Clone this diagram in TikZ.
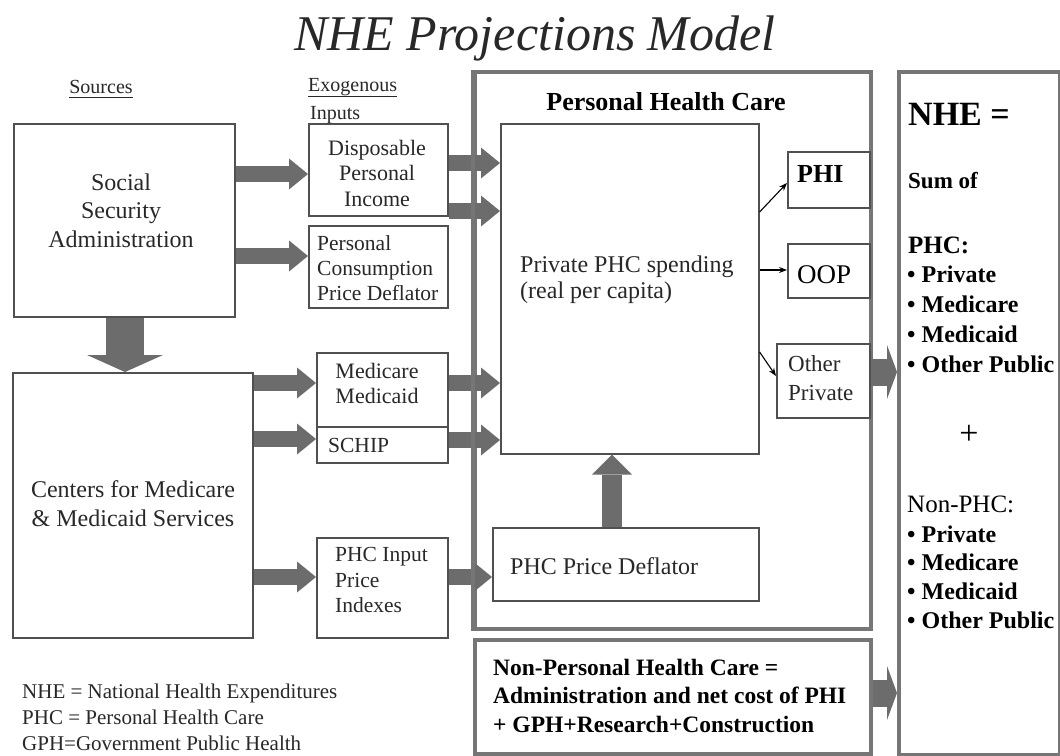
\documentclass[tikz,border=0pt]{standalone}
\usepackage{fontspec}
\setmainfont{Liberation Serif}
\usetikzlibrary{arrows.meta}
\definecolor{arrgray}{RGB}{108,108,108}
\definecolor{bordgray}{RGB}{80,80,80}
\definecolor{outgray}{RGB}{118,118,118}
\definecolor{txtgray}{RGB}{40,40,40}
\newcommand\myfs[2]{\fontsize{#1}{#2}\selectfont}
\begin{document}
\begin{tikzpicture}[x=1pt,y=-1pt,
 box/.style={draw=bordgray,line width=1.6pt,inner sep=0pt,anchor=north west},
 outbox/.style={draw=outgray,line width=4pt,inner sep=0pt,anchor=north west},
 lbl/.style={inner sep=0pt,text=txtgray},
 blbl/.style={inner sep=0pt,text=black},
 uline/.style={draw=txtgray,line width=1pt},
 fatarrow/.style={draw=arrgray,line width=16pt,-{Triangle[length=19pt,width=31pt,line width=0pt]}},
 bigarrow/.style={draw=arrgray,line width=38pt,-{Triangle[length=17pt,width=76pt,line width=0pt]}},
 uparrow/.style={draw=arrgray,line width=20pt,-{Triangle[length=20pt,width=40pt,line width=0pt]}},
 widearrow/.style={draw=arrgray,line width=27pt,-{Triangle[length=10pt,width=54pt,line width=0pt]}},
 thinarrow/.style={draw=black,line width=1.1pt,-{Stealth[length=8pt,width=6pt]}}]
\fill[white] (0,0) rectangle (1060,755);
\useasboundingbox (0,0) rectangle (1060,755);
% outer boxes
\node[outbox,minimum width=396pt,minimum height=557pt] (phc) at (473,70) {};
\node[outbox,minimum width=396pt,minimum height=114pt] (nphc) at (473,638) {};
\node[outbox,minimum width=161pt,minimum height=683pt] (nhe) at (897,70) {};
% boxes
\node[box,minimum width=221pt,minimum height=193pt] (ssa) at (13,123) {};
\node[box,minimum width=240pt,minimum height=265pt] (cms) at (12,372) {};
\node[box,minimum width=139pt,minimum height=92pt] (dpi) at (308,123) {};
\node[box,minimum width=139pt,minimum height=82pt] (pcpd) at (308,225) {};
\node[box,minimum width=131pt,minimum height=74pt] (med) at (316,352) {};
\node[box,minimum width=131pt,minimum height=36pt] (schip) at (316,426) {};
\node[box,minimum width=131pt,minimum height=100pt] (phcin) at (316,537) {};
\node[box,minimum width=258pt,minimum height=330pt] (priv) at (500,123) {};
\node[box,minimum width=266pt,minimum height=73pt] (defl) at (492,527) {};
\node[box,minimum width=82pt,minimum height=56pt] (phi) at (787,151) {};
\node[box,minimum width=82pt,minimum height=54pt] (oop) at (787,243) {};
\node[box,minimum width=93pt,minimum height=74pt] (othp) at (776,343) {};
% fat arrows
\draw[fatarrow] (ssa.east |- 0,174) -- (dpi.west |- 0,174);
\draw[fatarrow] (ssa.east |- 0,256) -- (pcpd.west |- 0,256);
\draw[fatarrow] (dpi.east |- 0,163) -- (priv.west |- 0,163);
\draw[fatarrow] (dpi.east |- 0,211) -- (priv.west |- 0,211);
\draw[bigarrow] (ssa.south -| 125,0) -- (cms.north -| 125,0);
\draw[fatarrow] (cms.east |- 0,383) -- (med.west |- 0,383);
\draw[fatarrow] (cms.east |- 0,439) -- (schip.west |- 0,439);
\draw[fatarrow] (cms.east |- 0,577) -- (phcin.west |- 0,577);
\draw[fatarrow] (med.east |- 0,383) -- (priv.west |- 0,383);
\draw[fatarrow] (schip.east |- 0,440) -- (priv.west |- 0,440);
\draw[fatarrow] (phcin.east |- 0,577) -- (defl.west |- 0,577);
\draw[uparrow] (defl.north -| 612,0) -- (priv.south -| 612,0);
\draw[widearrow] (othp.east |- 0,372) -- (nhe.west |- 0,372);
\draw[widearrow] (nphc.east |- 0,693) -- (nhe.west |- 0,693);
\draw[outgray,line width=4pt] (phc.north west) -- (phc.south west);
% thin arrows
\draw[thinarrow] (priv.east |- 0,212) -- (phi.west |- 0,183);
\draw[thinarrow] (priv.east |- 0,270) -- (oop.west |- 0,270);
\draw[thinarrow] (priv.east |- 0,352) -- (othp.west |- 0,376);
% texts
\node[lbl,font=\itshape\myfs{50}{60},anchor=base] (title) at (535,50) {NHE Projections Model};
\node[lbl,font=\myfs{20}{24},anchor=base] (src) at (101,93) {Sources};
\draw[uline] ([yshift=-4pt]src.base west) -- ([yshift=-4pt]src.base east);
\node[lbl,font=\myfs{20}{24},anchor=base west] (exo) at (308,91) {Exogenous};
\draw[uline] ([yshift=-5pt]exo.base west) -- ([yshift=-5pt]exo.base east);
\node[lbl,font=\myfs{20}{24},anchor=base west] (inp) at (310,119) {Inputs};
\node[lbl,font=\myfs{24}{28.5},align=center] (ssat) at (121,210.4) {Social\\Security\\Administration};
\node[lbl,font=\myfs{24}{29},align=center] (cmst) at (133,503.3) {Centers for Medicare\\\& Medicaid Services};
\node[lbl,font=\myfs{22}{25.5},align=center] (dpit) at (377,173) {Disposable\\Personal\\Income};
\node[lbl,font=\myfs{21.5}{25},align=left,anchor=west] (pcpdt) at (317,267.7) {Personal\\Consumption\\Price Deflator};
\node[lbl,font=\myfs{22}{25},align=center] (medt) at (377,383) {Medicare\\Medicaid};
\node[lbl,font=\myfs{21.5}{25},anchor=base west] (schipt) at (328,452) {SCHIP};
\node[lbl,font=\myfs{21.5}{25.5},align=left,anchor=west] (phcint) at (335,580.2) {PHC Input\\Price\\Indexes};
\node[blbl,font=\bfseries\myfs{26}{30},anchor=base] (phctitle) at (666,110) {Personal Health Care};
\node[lbl,font=\myfs{24}{26},align=left,anchor=west] (privt) at (520,279.5) {Private PHC spending\\(real per capita)};
\node[lbl,font=\myfs{24}{28},anchor=base west] (deflt) at (510,574) {PHC Price Deflator};
\node[blbl,font=\bfseries\myfs{26}{30},anchor=base west] (phit) at (797,182) {PHI};
\node[blbl,font=\myfs{27}{30},anchor=base west] (oopt) at (797,283) {OOP};
\node[lbl,font=\myfs{23}{29},align=left,anchor=west] (othpt) at (788,377.7) {Other\\Private};
\node[blbl,font=\bfseries\myfs{23.5}{28.5},align=left,anchor=west] (nphct) at (493,695.5) {Non-Personal Health Care =\\Administration and net cost of PHI\\+ GPH+Research+Construction};
\node[blbl,font=\bfseries\myfs{34}{40},anchor=base west] (nhet) at (908,125) {NHE =};
\node[blbl,font=\bfseries\myfs{23}{28},anchor=base west] (sumt) at (908,188) {Sum of};
\node[blbl,font=\bfseries\myfs{25}{30},anchor=base west] (phcl) at (908,253) {PHC:};
\node[blbl,font=\bfseries\myfs{24}{30},align=left,anchor=west] (phcb) at (907,318.9) {• Private\\• Medicare\\• Medicaid\\• Other Public};
\node[blbl,font=\myfs{34}{40}] (plus) at (969,435) {+};
\node[blbl,font=\myfs{25}{30},anchor=base west] (nonl) at (907,512) {Non-PHC:};
\node[blbl,font=\bfseries\myfs{24}{28.7},align=left,anchor=west] (nonb) at (907,577) {• Private\\• Medicare\\• Medicaid\\• Other Public};
\node[lbl,font=\myfs{21}{26},align=left,anchor=west] (legend) at (22,717.2) {NHE = National Health Expenditures\\PHC = Personal Health Care\\GPH=Government Public Health};
\end{tikzpicture}
\end{document}
